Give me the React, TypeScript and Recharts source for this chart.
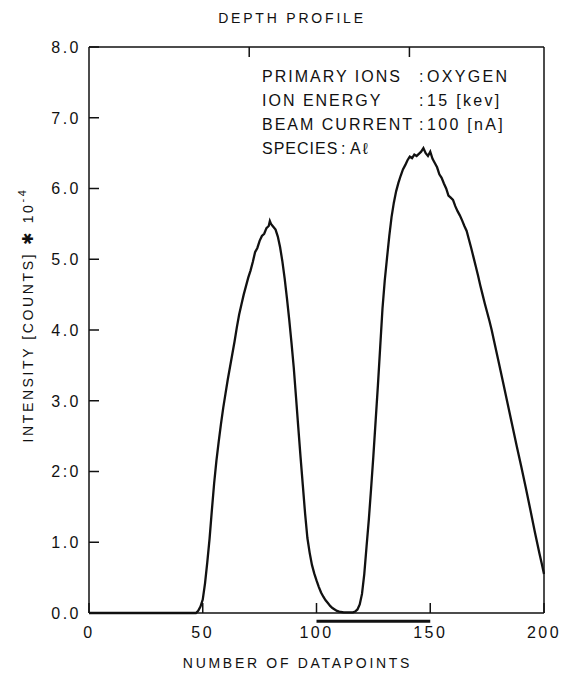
import React from 'react';
import { LineChart, Line, XAxis, YAxis, ReferenceLine } from 'recharts';

// depth profile
const datapoint = [
  0, 47, 48, 49, 50, 51, 52, 53, 54, 55,
  56, 57, 58, 59, 60, 61, 62, 63, 64, 65,
  66, 67, 68, 69, 70, 71, 72, 73, 74, 75,
  76, 77, 78, 79, 79.5, 80, 81, 82, 83, 84,
  85, 86, 87, 88, 89, 90, 91, 92, 93, 94,
  95, 96, 97, 98, 99, 100, 101, 102, 103, 104,
  105, 106, 107, 108, 109, 110, 112, 114, 116, 117,
  118, 119, 120, 121, 122, 123, 124, 125, 126, 127,
  128, 129, 130, 131, 132, 133, 134, 135, 136, 137,
  138, 139, 140, 141, 142, 143, 144, 145, 146, 147,
  148, 149, 150, 151, 152, 153, 154, 155, 156, 157,
  158, 159, 160, 161, 162, 163, 164, 165, 166, 167,
  168, 169, 170, 171, 172, 173, 174, 175, 176, 177,
  178, 180, 182, 184, 186, 188, 190, 192, 194, 196,
  198, 199, 200,
];

const intensity = [
  0, 0, 0.03, 0.09, 0.19, 0.42, 0.72, 1.05, 1.45, 1.83,
  2.15, 2.42, 2.67, 2.9, 3.1, 3.3, 3.48, 3.66, 3.84, 4.04,
  4.22, 4.36, 4.5, 4.62, 4.74, 4.84, 4.96, 5.1, 5.16, 5.26,
  5.33, 5.36, 5.44, 5.47, 5.54, 5.5, 5.46, 5.42, 5.32, 5.17,
  4.97, 4.73, 4.45, 4.15, 3.82, 3.47, 3.05, 2.62, 2.2, 1.8,
  1.4, 1.06, 0.85, 0.68, 0.56, 0.46, 0.37, 0.29, 0.23, 0.18,
  0.14, 0.1, 0.07, 0.05, 0.03, 0.02, 0.01, 0.01, 0.01, 0.02,
  0.05, 0.12, 0.27, 0.55, 0.94, 1.32, 1.76, 2.22, 2.72, 3.22,
  3.76, 4.3, 4.7, 5.02, 5.33, 5.6, 5.8, 5.96, 6.08, 6.18,
  6.27, 6.33, 6.4, 6.45, 6.43, 6.48, 6.46, 6.49, 6.52, 6.57,
  6.5, 6.46, 6.52, 6.42, 6.36, 6.3, 6.2, 6.15, 6.07, 6.0,
  5.9, 5.87, 5.84, 5.75, 5.68, 5.62, 5.55, 5.47, 5.4, 5.28,
  5.16, 5.03, 4.9, 4.77, 4.63, 4.5, 4.37, 4.25, 4.13, 4.0,
  3.85, 3.56, 3.26, 2.96, 2.66, 2.36, 2.07, 1.77, 1.46, 1.14,
  0.84, 0.7, 0.55,
];

const xTicks = [0, 50, 100, 150, 200];
const yTicks = [0, 1, 2, 3, 4, 5, 6, 7, 8];
const yTickText = ['0.0', '1.0', '2:0', '3.0', '4.0', '5.0', '6.0', '7.0', '8.0'];

const infoRows = [
  { key: 'PRIMARY IONS', value: 'OXYGEN' },
  { key: 'ION ENERGY', value: '15 [kev]' },
  { key: 'BEAM CURRENT', value: '100 [nA]' },
];

const data = datapoint.map((x, i) => ({ x, v: intensity[i] }));

const FONT = '"Liberation Sans", Arial, sans-serif';

const XTick = ({ x, y, payload }: any) => (
  <text x={x} y={y} dy="0.71em" textAnchor="middle" fontSize={16} fontFamily={FONT} letterSpacing={2.5} fill="#111">
    {payload.value}
  </text>
);

const YTick = ({ x, y, payload }: any) => (
  <text x={x} y={y} dy="0.36em" textAnchor="end" fontSize={16} fontFamily={FONT} letterSpacing={2.5} fill="#111">
    {yTickText[yTicks.indexOf(payload.value)]}
  </text>
);

const Blank = () => <g />;

const App = () => {
  return (
    <div style={{ position: 'absolute', left: 0, top: 0, width: 562, height: 674, background: '#fff' }}>
      <LineChart width={562} height={674} data={data} margin={{ top: 37, right: 8, left: 39, bottom: 31 }}>
        <XAxis
          dataKey="x"
          type="number"
          domain={[0, 200]}
          ticks={xTicks}
          tickSize={-10}
          tickMargin={24}
          tick={XTick}
          stroke="#111"
          strokeWidth={1.5}
          height={30}
          label={({ viewBox }: any) => (
            <text
              x={viewBox.x + viewBox.width / 2 - 19}
              y={viewBox.y + 55}
              textAnchor="middle"
              fontSize={14}
              fontFamily={FONT}
              letterSpacing={2.7}
              fill="#111"
            >
              NUMBER OF DATAPOINTS
            </text>
          )}
        />
        <XAxis
          xAxisId="top"
          orientation="top"
          type="number"
          domain={[0, 200]}
          ticks={[50, 100, 150]}
          tickSize={-10}
          tick={Blank}
          stroke="#111"
          strokeWidth={1.5}
          height={10}
        />
        <YAxis
          type="number"
          domain={[0, 8]}
          ticks={yTicks}
          tickSize={-10}
          tickMargin={18}
          tick={YTick}
          stroke="#111"
          strokeWidth={1.5}
          width={50}
          label={({ viewBox }: any) => {
            const cx = viewBox.x - 11;
            const cy = 315;
            return (
              <text
                transform={`translate(${cx},${cy}) rotate(-90)`}
                textAnchor="middle"
                dy="0.36em"
                fontSize={14}
                fontFamily={FONT}
                letterSpacing={2.6}
                fill="#111"
              >
                INTENSITY [COUNTS] <tspan fontSize={15}>✱</tspan> 10
                <tspan fontSize={11} dy={-7}>-4</tspan>
              </text>
            );
          }}
        />
        <YAxis
          yAxisId="right"
          orientation="right"
          type="number"
          domain={[0, 8]}
          ticks={yTicks}
          tickSize={-10}
          tick={Blank}
          stroke="#111"
          strokeWidth={1.5}
          width={10}
        />
        <ReferenceLine
          segment={[{ x: 100, y: -0.115 }, { x: 150, y: -0.115 }]}
          stroke="#111"
          strokeWidth={3}
          ifOverflow="visible"
        />
        <Line
          type="linear"
          dataKey="v"
          stroke="#111"
          strokeWidth={2.3}
          dot={false}
          isAnimationActive={false}
        />
      </LineChart>
      <svg width={562} height={674} style={{ position: 'absolute', left: 0, top: 0, pointerEvents: 'none' }}>
        <text x={292} y={23} textAnchor="middle" fontSize={14} fontFamily={FONT} letterSpacing={2.8} fill="#111">
          DEPTH PROFILE
        </text>
        <g fontSize={16} fontFamily={FONT} fill="#111">
          {infoRows.map((r, i) => (
            <g key={r.key}>
              <text x={262} y={82 + i * 24} letterSpacing={2}>{r.key}</text>
              <text x={419} y={82 + i * 24}>:</text>
              <text x={427} y={82 + i * 24} letterSpacing={2.3}>{r.value}</text>
            </g>
          ))}
          <text x={262} y={154} letterSpacing={1}>SPECIES</text>
          <text x={341} y={154}>:</text>
          <text x={350} y={154} letterSpacing={2}>Aℓ</text>
        </g>
      </svg>
    </div>
  );
};

export default App;
